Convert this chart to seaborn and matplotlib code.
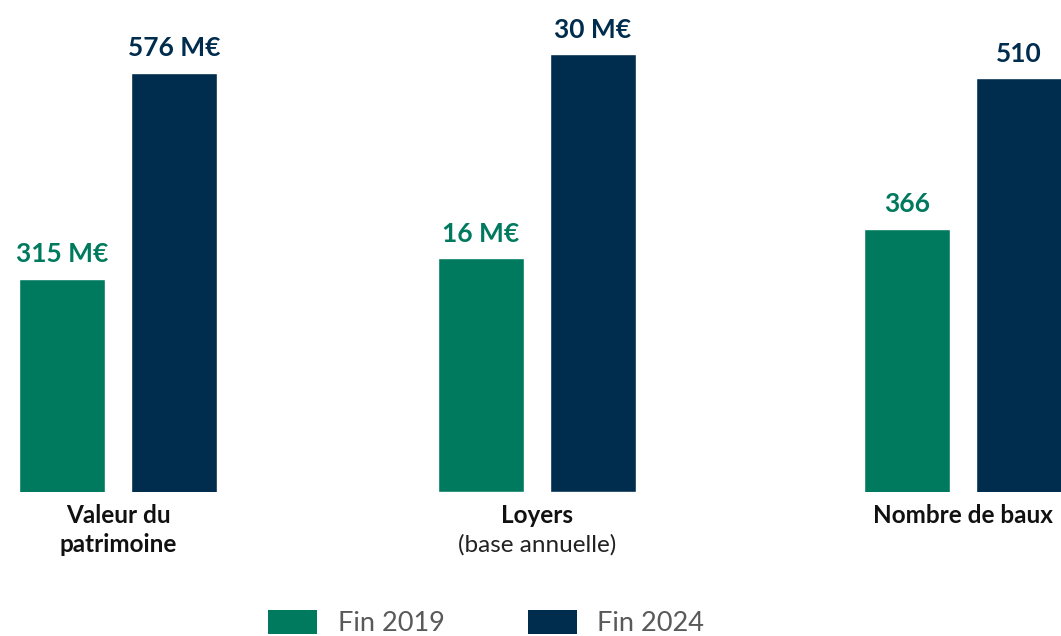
import matplotlib
matplotlib.use("Agg")
import matplotlib.pyplot as plt
from matplotlib.patches import Patch
import seaborn as sns
import pandas as pd

# ---- data ----
categories = ["Valeur du\npatrimoine", "Loyers", "Nombre de baux"]
subtitles = ["", "(base annuelle)", ""]
series = ["Fin 2019", "Fin 2024"]
values_2019 = [315, 16, 366]
values_2024 = [576, 30, 510]
value_labels_2019 = ["315 M€", "16 M€", "366"]
value_labels_2024 = ["576 M€", "30 M€", "510"]

# ---- style ----
colors = {"Fin 2019": "#007A5E", "Fin 2024": "#002C4D"}
font = ["Lato", "DejaVu Sans"]
sns.set_theme(style="white")
plt.rcParams["font.family"] = font

W, H = 1061, 636
fig = plt.figure(figsize=(W / 100, H / 100), dpi=100)

axes_left_px = [19, 438, 864]
axes_w_px = 198
base_px = 492
ylims = [(45, 668.5), (0, 33.7), (115, 584.5)]
bar_w = 0.768
first_baseline_px = 523
line_step_px = 29
cat_size = 17.5

for i, cat in enumerate(categories):
    ax = fig.add_axes([axes_left_px[i] / W, (H - base_px) / H, axes_w_px / W, base_px / H])
    df = pd.DataFrame({"serie": series, "value": [values_2019[i], values_2024[i]]})
    sns.barplot(data=df, x="serie", y="value", hue="serie", palette=colors,
                width=bar_w, legend=False, ax=ax, saturation=1)
    ax.set_xlim(-bar_w / 2, 1 + bar_w / 2)
    ax.set_ylim(*ylims[i])
    labels = [value_labels_2019[i], value_labels_2024[i]]
    for cont, lab, s in zip(ax.containers, labels, series):
        ax.bar_label(cont, labels=[lab], padding=9, fontsize=19, fontweight="bold",
                     color=colors[s], family=font)
    ax.set_axis_off()
    xc = (axes_left_px[i] + axes_w_px / 2) / W
    lines = [(l, "bold", "#111111") for l in cat.split("\n")]
    if subtitles[i]:
        lines.append((subtitles[i], "normal", "#222222"))
    for k, (txt, wt, col) in enumerate(lines):
        y = (H - (first_baseline_px + k * line_step_px)) / H
        fig.text(xc, y, txt, ha="center", va="baseline", fontsize=cat_size,
                 fontweight=wt, color=col, family=font)

handles = [Patch(facecolor=colors[s], edgecolor="none", label=s) for s in series]
leg = fig.legend(handles=handles, loc="center", bbox_to_anchor=(0.4585, 0.02),
                 ncol=2, frameon=False, handlelength=1.8,
                 handleheight=1.0, handletextpad=0.75, columnspacing=3.1,
                 prop={"family": font, "size": 19.5})
for t in leg.get_texts():
    t.set_color("#595959")

fig.savefig("out.png", dpi=100)
